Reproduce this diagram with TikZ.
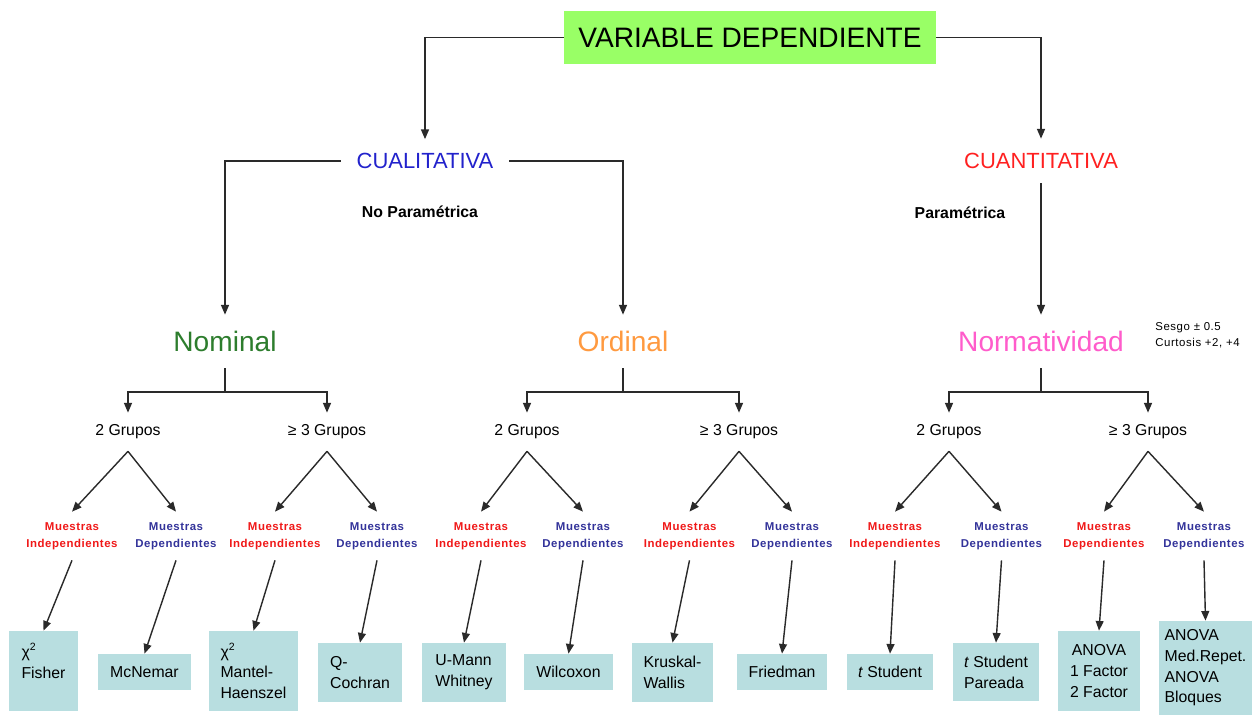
\documentclass[tikz,border=0pt]{standalone}
\usepackage{fontspec}
\setmainfont{Liberation Sans}
\newfontfamily\spacedfont[LetterSpace=5]{Liberation Sans}
\usetikzlibrary{arrows.meta}
\definecolor{boxfill}{HTML}{B8DEE0}
\definecolor{vdgreen}{HTML}{99FF66}
\definecolor{cualblue}{HTML}{2222CC}
\definecolor{cuanred}{HTML}{FF2020}
\definecolor{nomgreen}{HTML}{2D7D2D}
\definecolor{ordorange}{HTML}{FF9A40}
\definecolor{normpink}{HTML}{FF5CCB}
\definecolor{mred}{HTML}{F01818}
\definecolor{mblue}{HTML}{33339A}
\definecolor{linegray}{HTML}{2A2A2A}
\begin{document}
\begin{tikzpicture}[x=0.02cm,y=-0.02cm,
  font=\fontsize{9}{12}\selectfont,
  line/.style={draw=linegray, line width=0.8pt},
  arr/.style={line, -{Triangle[length=5.5pt,width=4.5pt]}},
  tbox/.style n args={2}{fill=boxfill, inner sep=0pt, minimum width=#1cm, minimum height=#2cm, font=\fontsize{9}{11.8}\selectfont},
  level/.style={inner sep=0pt, font=\fontsize{12.5}{14}\selectfont},
  sub/.style={inner sep=0pt, minimum height=1.06cm, font=\fontsize{16}{18}\selectfont},
  grp/.style={inner sep=0pt, minimum height=0.76cm},
  mi/.style={inner sep=0pt, minimum height=0.96cm, align=center, text=mred, font=\spacedfont\bfseries\fontsize{6.5}{9.6}\selectfont},
  md/.style={mi, text=mblue},
  note/.style={inner sep=0pt, font=\bfseries\fontsize{9}{11}\selectfont}
]
\useasboundingbox (0,0) rectangle (1254,715);
\fill[white] (0,0) rectangle (1254,715);

% top
\node[fill=vdgreen, minimum width=7.44cm, minimum height=1.06cm, inner sep=0pt, font=\fontsize{16}{18}\selectfont] (vd) at (750,37.5) {VARIABLE DEPENDIENTE};
\node[level, text=cualblue, minimum width=3.36cm, minimum height=0.86cm] (cual) at (425,161) {CUALITATIVA};
\node[level, text=cuanred, minimum height=0.88cm] (cuan) at (1041,161) {CUANTITATIVA};
\node[note] (nopar) at (420,212) {No Paramétrica};
\node[note] (par) at (960,213) {Paramétrica};

\node[sub, text=nomgreen] (nom) at (225,341.5) {Nominal};
\node[sub, text=ordorange] (ord) at (623,341.5) {Ordinal};
\node[sub, text=normpink] (norm) at (1041,341.5) {Normatividad};
\node[anchor=west, inner sep=0pt, align=left, font=\spacedfont\fontsize{6.5}{9}\selectfont] (sesgo) at (1155,335) {Sesgo ± 0.5\\Curtosis +2, +4};

\draw[arr] (vd.west) -| (cual.north);
\draw[arr] (vd.east) -| (cuan.north);
\draw[arr] (cual.west) -| (nom.north);
\draw[arr] (cual.east) -| (ord.north);
\draw[arr] (cuan.south) -- (norm.north);

% groups
\node[grp] (n2) at (128,432) {2 Grupos};
\node[grp] (n3) at (327,432) {≥ 3 Grupos};
\node[grp] (o2) at (527,432) {2 Grupos};
\node[grp] (o3) at (739,432) {≥ 3 Grupos};
\node[grp] (p2) at (949,432) {2 Grupos};
\node[grp] (p3) at (1148,432) {≥ 3 Grupos};

\coordinate (nomj) at (225,392);
\coordinate (ordj) at (623,392);
\coordinate (normj) at (1041,392);
\draw[line] (nom.south) -- (nomj);
\draw[line] (ord.south) -- (ordj);
\draw[line] (norm.south) -- (normj);
\draw[arr] (nomj) -| (n2.north);
\draw[arr] (nomj) -| (n3.north);
\draw[arr] (ordj) -| (o2.north);
\draw[arr] (ordj) -| (o3.north);
\draw[arr] (normj) -| (p2.north);
\draw[arr] (normj) -| (p3.north);

% muestras
\node[mi] (n2i) at (72,536) {Muestras\\Independientes};
\node[md] (n2d) at (176,536) {Muestras\\Dependientes};
\node[mi] (n3i) at (275,536) {Muestras\\Independientes};
\node[md] (n3d) at (377,536) {Muestras\\Dependientes};
\node[mi] (o2i) at (481,536) {Muestras\\Independientes};
\node[md] (o2d) at (583,536) {Muestras\\Dependientes};
\node[mi] (o3i) at (689.5,536) {Muestras\\Independientes};
\node[md] (o3d) at (792,536) {Muestras\\Dependientes};
\node[mi] (p2i) at (895,536) {Muestras\\Independientes};
\node[md] (p2d) at (1001.5,536) {Muestras\\Dependientes};
\node[mi] (p3a) at (1104,536) {Muestras\\Dependientes};
\node[md] (p3b) at (1204,536) {Muestras\\Dependientes};

\foreach \g/\a/\b in {n2/n2i/n2d, n3/n3i/n3d, o2/o2i/o2d, o3/o3i/o3d, p2/p2i/p2d, p3/p3a/p3b}{
  \draw[arr] (\g.south) -- (\a.north);
  \draw[arr] (\g.south) -- (\b.north);
}

% test boxes
\node[tbox={1.38}{1.6}, align=left] (fisher) at (43.5,671) {χ\textsuperscript{2}\\Fisher\\\mbox{}};
\node[tbox={1.86}{0.72}] (mcnemar) at (144.5,672) {McNemar};
\node[tbox={1.78}{1.6}, align=left] (mantel) at (253.5,671) {χ\textsuperscript{2}\\Mantel-\\Haenszel};
\node[tbox={1.68}{1.18}, align=left] (qcoch) at (360,672.5) {Q-\\Cochran};
\node[tbox={1.68}{1.18}, align=left] (umann) at (464,672.5) {U-Mann\\Whitney};
\node[tbox={1.78}{0.72}] (wilc) at (568.5,672) {Wilcoxon};
\node[tbox={1.62}{1.18}, align=left] (krus) at (672.5,672.5) {Kruskal-\\Wallis};
\node[tbox={1.80}{0.72}] (fried) at (782,672) {Friedman};
\node[tbox={1.72}{0.72}] (tstud) at (890,672) {\textit{t} Student};
\node[tbox={1.72}{1.16}, align=left] (tpar) at (996,672) {\textit{t} Student\\Pareada};
\node[tbox={1.64}{1.6}, align=center] (anova1) at (1099,671) {ANOVA\\1 Factor\\2 Factor};
\node[tbox={1.86}{1.88}, align=left] (anova2) at (1205.5,668) {ANOVA\\Med.Repet.\\ANOVA\\Bloques};

\draw[arr] (n2i.south) -- (fisher.north);
\draw[arr] (n2d.south) -- (mcnemar.north);
\draw[arr] (n3i.south) -- (mantel.north);
\draw[arr] (n3d.south) -- (qcoch.north);
\draw[arr] (o2i.south) -- (umann.north);
\draw[arr] (o2d.south) -- (wilc.north);
\draw[arr] (o3i.south) -- (krus.north);
\draw[arr] (o3d.south) -- (fried.north);
\draw[arr] (p2i.south) -- (tstud.north);
\draw[arr] (p2d.south) -- (tpar.north);
\draw[arr] (p3a.south) -- (anova1.north);
\draw[arr] (p3b.south) -- (anova2.north);
\end{tikzpicture}
\end{document}
